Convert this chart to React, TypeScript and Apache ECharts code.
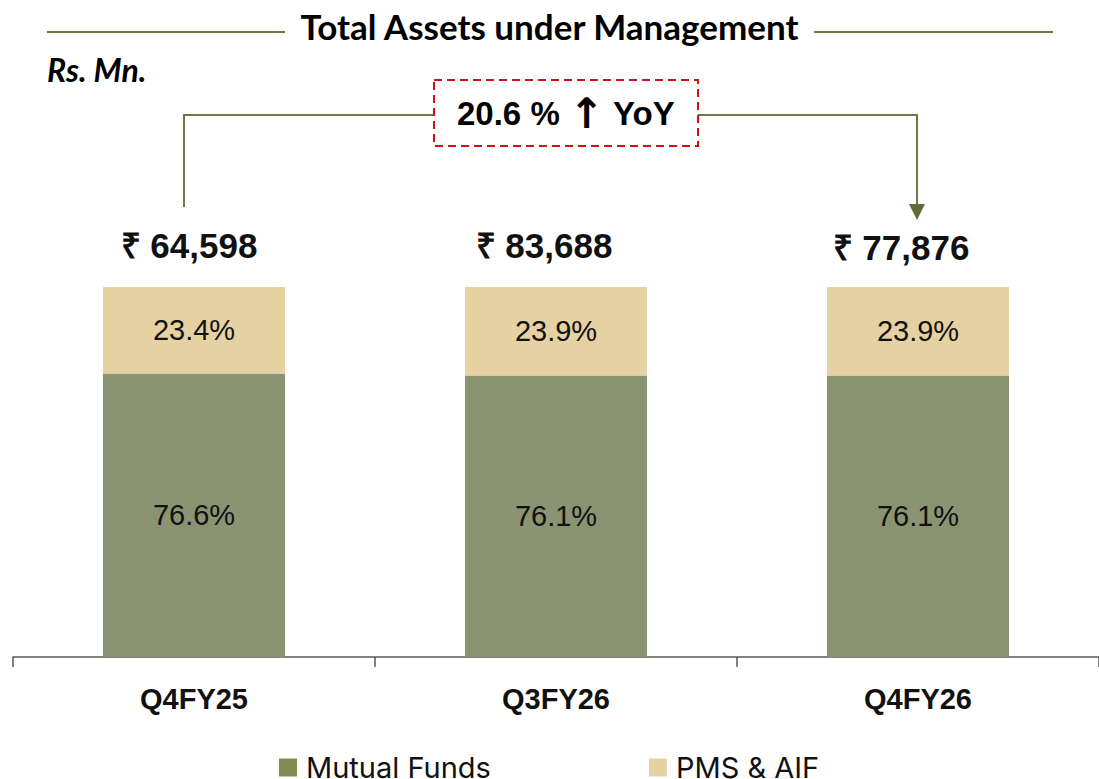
import React, { useEffect, useRef } from 'react';
import * as echarts from 'echarts';

const categories = ['Q4FY25', 'Q3FY26', 'Q4FY26'];
const mutualFunds = [76.6, 76.1, 76.1];
const pmsAif = [23.4, 23.9, 23.9];
const totals = [64598, 83688, 77876];
const totalTop = [0, 0, 0];
const yoyGrowth = 20.6;
const seriesNames = ['Mutual Funds', 'PMS & AIF'];

export default function App() {
  const ref = useRef<HTMLDivElement>(null);
  useEffect(() => {
    const chart = echarts.init(ref.current!, null, { renderer: 'svg' });
    const olive = '#6B7A45';
    const labelFont = '"Liberation Sans", Arial, sans-serif';
    const totalOffsets = [[-5, 0], [-12, 0], [-17, 2]];
    chart.setOption({
      animation: false,
      backgroundColor: '#ffffff',
      title: {
        text: 'Total Assets under Management',
        left: 'center',
        top: 3,
        textStyle: { fontFamily: 'Lato', fontWeight: 'bold', fontSize: 35, color: '#000' },
      },
      grid: { left: 13, right: -2, top: 287, bottom: 122 },
      legend: {
        data: [
          { name: seriesNames[0], itemStyle: { color: '#7F8D4E' } },
          { name: seriesNames[1], itemStyle: { color: '#E6D1A3' } },
        ],
        left: 279,
        top: 753,
        padding: 0,
        itemWidth: 18,
        itemHeight: 18,
        itemGap: 158,
        icon: 'rect',
        textStyle: { fontFamily: 'Inter', fontSize: 29, color: '#111', padding: [0, 0, 0, 4] },
      },
      xAxis: {
        type: 'category',
        data: categories,
        axisLine: { lineStyle: { color: '#595959', width: 1.5 } },
        axisTick: { show: true, length: 10, lineStyle: { color: '#595959', width: 1.5 } },
        axisLabel: { fontFamily: labelFont, fontWeight: 'bold', fontSize: 29, color: '#111', margin: 27 },
      },
      yAxis: { type: 'value', min: 0, max: 100, show: false, splitLine: { show: false } },
      series: [
        {
          name: seriesNames[0],
          type: 'bar',
          stack: 'a',
          barWidth: 182,
          data: mutualFunds,
          itemStyle: { color: '#8A9472' },
          label: {
            show: true,
            position: 'inside',
            formatter: (p: any) => p.value.toFixed(1) + '%',
            fontFamily: labelFont,
            fontSize: 29,
            color: '#111',
          },
        },
        {
          name: seriesNames[1],
          type: 'bar',
          stack: 'a',
          barWidth: 182,
          data: pmsAif,
          itemStyle: { color: '#E6D1A3' },
          label: {
            show: true,
            position: 'inside',
            formatter: (p: any) => p.value.toFixed(1) + '%',
            fontFamily: labelFont,
            fontSize: 29,
            color: '#111',
          },
        },
        {
          name: 'Total',
          type: 'bar',
          stack: 'a',
          barWidth: 182,
          data: totalTop.map((v, i) => ({
            value: v,
            label: { offset: totalOffsets[i] },
          })),
          itemStyle: { color: 'transparent' },
          label: {
            show: true,
            position: 'top',
            distance: 24,
            formatter: (p: any) => '₹ ' + totals[p.dataIndex].toLocaleString('en-IN'),
            fontFamily: labelFont,
            fontWeight: 'bold',
            fontSize: 35,
            color: '#111',
          },
        },
      ],
      graphic: [
        { type: 'line', shape: { x1: 47, y1: 32, x2: 285, y2: 32 }, style: { stroke: olive, lineWidth: 2 } },
        { type: 'line', shape: { x1: 814, y1: 32, x2: 1053, y2: 32 }, style: { stroke: olive, lineWidth: 2 } },
        {
          type: 'text',
          left: 47,
          top: 53,
          style: { text: 'Rs. Mn.', font: 'italic bold 32px Lato', fill: '#000' },
        },
        {
          type: 'polyline',
          shape: { points: [[184, 207], [184, 115], [434, 115]] },
          style: { stroke: olive, lineWidth: 2, fill: 'none' },
        },
        {
          type: 'polyline',
          shape: { points: [[698, 115], [917, 115], [917, 206]] },
          style: { stroke: olive, lineWidth: 2, fill: 'none' },
        },
        {
          type: 'polygon',
          shape: { points: [[909, 204], [925, 204], [917, 220]] },
          style: { fill: '#5E6D35' },
        },
        {
          type: 'rect',
          shape: { x: 434, y: 80, width: 264, height: 66 },
          style: { fill: '#fff', stroke: '#D0101B', lineWidth: 2, lineDash: [8, 5] },
        },
        {
          type: 'text',
          x: 566,
          y: 113,
          style: {
            text: '{t|' + yoyGrowth.toFixed(1) + ' % }{a|↑}{t| YoY}',
            fill: '#000',
            align: 'center',
            verticalAlign: 'middle',
            rich: {
              t: { fontFamily: labelFont, fontWeight: 'bold', fontSize: 33, fill: '#000' },
              a: { fontFamily: '"DejaVu Sans"', fontWeight: 'bold', fontSize: 42, fill: '#000' },
            },
          },
        },
      ],
    });
    return () => chart.dispose();
  }, []);
  return (
    <div
      ref={ref}
      style={{ position: 'fixed', left: 0, top: 0, width: 1099, height: 779 }}
    />
  );
}
